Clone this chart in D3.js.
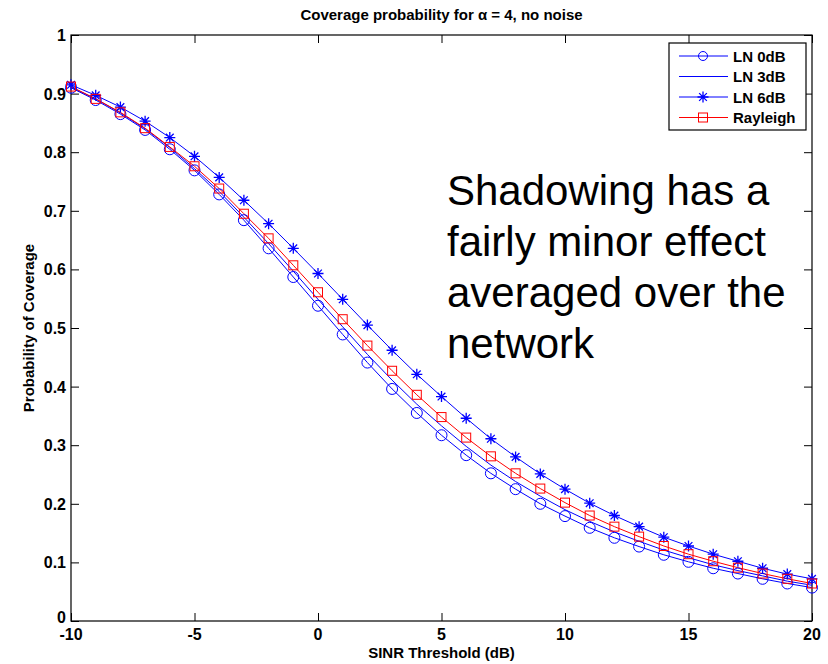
<!DOCTYPE html>
<html>
<head>
<meta charset="utf-8">
<script src="https://cdn.jsdelivr.net/npm/d3@7"></script>
<style>
  body { margin: 0; background: #fff; }
  text { font-family: "Liberation Sans", Arial, sans-serif; }
</style>
</head>
<body>
<div id="chart"></div>
<script>
var width = 828, height = 664;
var margin = {left: 71, right: 16, top: 35, bottom: 43};

// SINR threshold (dB)
var sinr = [-10,-9,-8,-7,-6,-5,-4,-3,-2,-1,0,1,2,3,4,5,6,7,8,9,10,11,12,13,14,15,16,17,18,19,20];

var ln0 = [0.910,0.889,0.865,0.838,0.805,0.769,0.728,0.684,0.636,0.587,0.538,0.489,0.441,0.396,0.355,0.317,0.283,0.252,0.225,0.200,0.179,0.159,0.142,0.127,0.113,0.101,0.090,0.081,0.072,0.064,0.057];
var ln3 = [0.911,0.891,0.867,0.840,0.808,0.772,0.733,0.689,0.644,0.597,0.549,0.502,0.455,0.411,0.370,0.333,0.298,0.266,0.238,0.213,0.190,0.170,0.152,0.136,0.121,0.108,0.096,0.086,0.077,0.068,0.061];
var ln6 = [0.915,0.897,0.877,0.853,0.825,0.793,0.757,0.718,0.678,0.636,0.593,0.549,0.505,0.462,0.421,0.383,0.346,0.311,0.280,0.251,0.225,0.201,0.180,0.161,0.143,0.128,0.114,0.102,0.090,0.080,0.072];
var rayleigh = [0.912,0.891,0.868,0.841,0.809,0.776,0.738,0.695,0.653,0.607,0.561,0.515,0.470,0.427,0.386,0.348,0.313,0.281,0.252,0.226,0.202,0.180,0.161,0.144,0.128,0.114,0.102,0.091,0.081,0.072,0.064];

var xTicks = [-10,-5,0,5,10,15,20];
var yTicks = [0,0.1,0.2,0.3,0.4,0.5,0.6,0.7,0.8,0.9,1];

var series = [
  {name: "LN 0dB", values: ln0, color: "#0000ff", marker: "circle"},
  {name: "LN 3dB", values: ln3, color: "#0000ff", marker: "none"},
  {name: "LN 6dB", values: ln6, color: "#0000ff", marker: "star"},
  {name: "Rayleigh", values: rayleigh, color: "#ff0000", marker: "square"}
];

var svg = d3.select("#chart").append("svg")
  .attr("width", width)
  .attr("height", height);

var x = d3.scaleLinear().domain([-10, 20]).range([margin.left, width - margin.right]);
var y = d3.scaleLinear().domain([0, 1]).range([height - margin.bottom, margin.top]);

var x0 = x.range()[0], x1 = x.range()[1], y0 = y.range()[0], y1 = y.range()[1];

// axes, ticks pointing inward (matlab style)
svg.append("g")
  .attr("transform", "translate(0," + y0 + ")")
  .call(d3.axisTop(x).tickValues(xTicks).tickSize(8).tickFormat(""))
  .call(function(g) { g.select(".domain").remove(); });
svg.append("g")
  .attr("transform", "translate(0," + y1 + ")")
  .call(d3.axisBottom(x).tickValues(xTicks).tickSize(8).tickFormat(""))
  .call(function(g) { g.select(".domain").remove(); });
svg.append("g")
  .attr("transform", "translate(" + x0 + ",0)")
  .call(d3.axisRight(y).tickValues(yTicks).tickSize(8).tickFormat(""))
  .call(function(g) { g.select(".domain").remove(); });
svg.append("g")
  .attr("transform", "translate(" + x1 + ",0)")
  .call(d3.axisLeft(y).tickValues(yTicks).tickSize(8).tickFormat(""))
  .call(function(g) { g.select(".domain").remove(); });

svg.append("rect")
  .attr("x", x0).attr("y", y1)
  .attr("width", x1 - x0).attr("height", y0 - y1)
  .attr("fill", "none").attr("stroke", "#000").attr("stroke-width", 1.2);

// tick labels
svg.selectAll(".xlab").data(xTicks).enter().append("text")
  .attr("x", function(d) { return x(d); })
  .attr("y", y0 + 19)
  .attr("text-anchor", "middle")
  .attr("font-size", "16px").attr("font-weight", "bold")
  .text(function(d) { return d; });

svg.selectAll(".ylab").data(yTicks).enter().append("text")
  .attr("x", x0 - 5)
  .attr("y", function(d) { return y(d) + (d === 0 ? 2 : 6); })
  .attr("text-anchor", "end")
  .attr("font-size", "16px").attr("font-weight", "bold")
  .text(function(d) { return d; });

// lines
var line = d3.line()
  .x(function(d, i) { return x(sinr[i]); })
  .y(function(d) { return y(d); });

series.forEach(function(s) {
  svg.append("path")
    .datum(s.values)
    .attr("d", line)
    .attr("fill", "none")
    .attr("stroke", s.color)
    .attr("stroke-width", 1);
});

var starPath = function(r) {
  var a = r * 0.7;
  return "M" + (-r) + ",0L" + r + ",0M0," + (-r) + "L0," + r +
    "M" + (-a) + "," + (-a) + "L" + a + "," + a + "M" + (-a) + "," + a + "L" + a + "," + (-a);
};

function drawMarker(g, type, color) {
  if (type === "circle") {
    g.append("circle").attr("r", 5.5).attr("fill", "none").attr("stroke", color).attr("stroke-width", 1);
  } else if (type === "square") {
    g.append("rect").attr("x", -4.5).attr("y", -4.5).attr("width", 9).attr("height", 9)
      .attr("fill", "none").attr("stroke", color).attr("stroke-width", 1);
  } else if (type === "star") {
    g.append("path").attr("d", starPath(5.5)).attr("fill", "none").attr("stroke", color).attr("stroke-width", 1.3);
  }
}

series.forEach(function(s) {
  if (s.marker === "none") return;
  svg.selectAll(null).data(s.values).enter().append("g")
    .attr("transform", function(d, i) { return "translate(" + x(sinr[i]) + "," + y(d) + ")"; })
    .each(function() { drawMarker(d3.select(this), s.marker, s.color); });
});

// title and labels
svg.append("text")
  .attr("x", (x0 + x1) / 2).attr("y", 20)
  .attr("text-anchor", "middle")
  .attr("font-size", "15px").attr("font-weight", "bold")
  .text("Coverage probability for α = 4, no noise");

svg.append("text")
  .attr("x", (x0 + x1) / 2).attr("y", 658)
  .attr("text-anchor", "middle")
  .attr("font-size", "15px").attr("font-weight", "bold")
  .text("SINR Threshold (dB)");

svg.append("text")
  .attr("transform", "translate(34," + ((y0 + y1) / 2) + ") rotate(-90)")
  .attr("text-anchor", "middle")
  .attr("font-size", "15px").attr("font-weight", "bold")
  .text("Probability of Coverage");

// legend
var lg = svg.append("g").attr("transform", "translate(669,43)");
lg.append("rect").attr("width", 137).attr("height", 87)
  .attr("fill", "#fff").attr("stroke", "#000").attr("stroke-width", 1.2);
series.forEach(function(s, i) {
  var row = lg.append("g").attr("transform", "translate(0," + (13 + i * 20.5) + ")");
  row.append("line").attr("x1", 10).attr("x2", 59).attr("y1", 0).attr("y2", 0)
    .attr("stroke", s.color).attr("stroke-width", 1);
  var m = row.append("g").attr("transform", "translate(34,0)");
  if (s.marker === "circle") {
    m.append("circle").attr("r", 4.5).attr("fill", "none").attr("stroke", s.color);
  } else {
    drawMarker(m, s.marker, s.color);
  }
  row.append("text").attr("x", 64).attr("y", 5.5)
    .attr("font-size", "15px").attr("font-weight", "bold")
    .text(s.name);
});

// annotation
var note = ["Shadowing has a", "fairly minor effect", "averaged over the", "network"];
svg.selectAll(".note").data(note).enter().append("text")
  .attr("x", 447)
  .attr("y", function(d, i) { return 205 + i * 51; })
  .attr("font-size", "42px")
  .attr("fill", "#000")
  .text(function(d) { return d; });
</script>
</body>
</html>
